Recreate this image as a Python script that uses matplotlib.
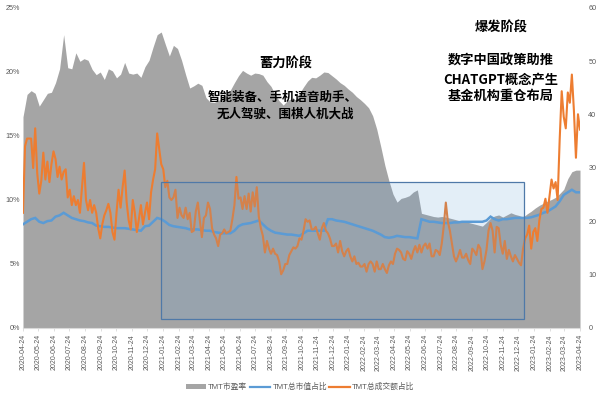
import matplotlib
matplotlib.use("Agg")
import matplotlib.pyplot as plt
import matplotlib.dates as mdates
from matplotlib.patches import Rectangle, Patch
from matplotlib.lines import Line2D
from matplotlib.ticker import FuncFormatter, MultipleLocator
import pandas as pd

# ---------------- data ----------------
start_date = "2020-04-24"
end_date = "2023-04-24"

# TMT PE (right axis)
pe_values = [
    39.6, 43.8, 44.5, 44.0, 41.6, 42.8, 44.0, 44.2, 46.0, 48.6,
    55.0, 48.8, 48.6, 51.6, 50.0, 50.5, 50.2, 48.5, 47.5, 48.0,
    46.6, 48.6, 48.2, 46.9, 47.6, 49.8, 47.8, 47.6, 47.8, 47.0,
    49.0, 50.2, 52.7, 55.0, 55.5, 53.2, 51.0, 53.0, 52.4, 50.2,
    47.5, 45.0, 45.4, 45.9, 45.5, 43.2, 42.4, 42.3, 42.6, 43.2,
    43.9, 44.6, 46.0, 47.3, 48.3, 47.8, 47.4, 47.8, 47.7, 47.4,
    46.2, 45.3, 43.8, 42.6, 41.8, 42.6, 43.0, 42.8, 44.0, 45.2,
    46.3, 47.0, 46.9, 47.4, 48.0, 47.9, 47.3, 46.7, 46.0, 45.5,
    44.8, 44.2, 43.4, 42.8, 42.1, 41.3, 39.8, 37.3, 34.0, 30.5,
    27.6, 25.1, 23.6, 24.3, 24.5, 24.8, 25.5, 25.9, 21.5, 21.3,
    21.1, 20.9, 20.8, 20.9, 20.8, 20.6, 20.4, 20.2, 20.0, 19.9,
    19.7, 19.5, 19.3, 19.1, 19.8, 20.6, 21.0, 21.2, 20.8, 21.2,
    21.6, 21.3, 21.1, 20.8, 21.4, 21.9, 22.5, 23.0, 23.4, 23.8,
    24.1, 24.5, 25.2, 26.0, 28.0, 29.3, 29.6, 29.6,
]

# TMT share of total market cap (%)
mcap_share = [
    8.1, 8.3, 8.5, 8.6, 8.3, 8.2, 8.35, 8.4, 8.7, 8.8,
    9.0, 8.8, 8.6, 8.5, 8.4, 8.35, 8.25, 8.2, 8.0, 7.95,
    7.9, 7.9, 7.85, 7.8, 7.8, 7.8, 7.75, 7.7, 7.65, 7.6,
    7.95, 8.0, 8.3, 8.6, 8.5, 8.3, 8.05, 7.95, 7.9, 7.85,
    7.8, 7.7, 7.7, 7.7, 7.65, 7.6, 7.6, 7.5, 7.45, 7.4,
    7.4, 7.4, 7.6, 7.95, 8.1, 8.15, 8.2, 8.3, 8.4, 8.1,
    7.8, 7.6, 7.45, 7.4, 7.35, 7.3, 7.3, 7.25, 7.2, 7.4,
    7.6, 7.6, 7.6, 7.6, 7.6, 8.5, 8.5, 8.4, 8.35, 8.3,
    8.2, 8.1, 8.0, 7.9, 7.8, 7.7, 7.6, 7.45, 7.3, 7.1,
    7.05, 7.1, 7.2, 7.15, 7.1, 7.1, 7.05, 7.0, 8.5, 8.4,
    8.3, 8.3, 8.25, 8.2, 8.2, 8.2, 8.25, 8.25, 8.3, 8.3,
    8.3, 8.3, 8.3, 8.3, 8.4, 8.7, 8.5, 8.4, 8.5, 8.5,
    8.55, 8.6, 8.6, 8.6, 8.6, 8.65, 8.75, 8.85, 9.0, 9.1,
    9.3, 9.5, 9.9, 10.4, 10.6, 10.8, 10.6, 10.6,
]

# TMT share of total turnover (%)
turnover_share = [
    9.0, 14.2, 14.8, 14.8, 14.8, 12.5, 15.6, 12.1, 10.5, 11.5,
    13.7, 11.6, 13.0, 11.4, 12.8, 13.8, 13.2, 11.8, 12.6, 11.6,
    12.2, 12.4, 10.2, 10.8, 9.6, 10.3, 9.6, 10.0, 9.0, 11.0,
    12.9, 10.0, 9.2, 10.0, 9.0, 9.6, 9.0, 7.8, 7.0, 8.1,
    8.8, 9.2, 9.7, 9.0, 7.5, 6.9, 9.0, 10.8, 9.4, 11.0,
    12.3, 9.8, 8.4, 7.7, 10.0, 9.0, 7.5, 8.5, 9.6, 8.1,
    9.0, 9.8, 8.5, 10.6, 11.6, 12.4, 15.2, 14.0, 12.8, 12.4,
    11.0, 11.5, 10.2, 10.0, 10.2, 10.8, 8.6, 9.4, 8.8, 8.6,
    9.4, 8.5, 9.0, 7.5, 7.6, 9.1, 9.8, 8.4, 7.1, 8.6,
    8.8, 9.8, 9.3, 7.8, 7.3, 7.0, 6.4, 7.3, 7.4, 7.7,
    7.4, 7.5, 7.6, 8.5, 9.6, 11.8, 10.1, 10.2, 9.3, 10.3,
    9.3, 10.5, 9.1, 10.6, 9.5, 11.0, 8.7, 7.8, 7.2, 5.9,
    6.8, 6.2, 5.8, 6.2, 5.8, 5.7, 5.2, 4.2, 4.5, 5.0,
    5.0, 5.7, 6.0, 6.3, 6.2, 6.4, 7.0, 6.9, 7.6, 8.5,
    8.3, 8.4, 7.7, 7.7, 7.9, 7.4, 6.9, 7.8, 8.2, 7.6,
    7.4, 7.0, 6.4, 6.4, 6.6, 5.9, 6.8, 6.0, 5.6, 6.0,
    6.2, 5.6, 5.2, 5.6, 5.0, 5.1, 4.8, 4.8, 5.0, 4.4,
    5.0, 5.2, 5.0, 4.4, 5.2, 4.6, 4.6, 5.0, 4.6, 4.3,
    4.9, 5.2, 5.0, 5.8, 6.2, 6.1, 5.9, 5.4, 5.3, 6.0,
    5.8, 5.4, 6.0, 6.4, 5.9, 6.5, 5.9, 6.4, 6.6, 6.2,
    6.6, 5.6, 5.6, 6.1, 6.0, 5.7, 6.6, 8.0, 9.8, 8.3,
    7.6, 6.6, 5.6, 5.2, 5.6, 6.1, 5.5, 5.5, 5.8, 5.3,
    5.0, 6.2, 6.0, 5.7, 6.5, 6.2, 4.6, 5.2, 6.1, 7.6,
    8.2, 7.6, 5.9, 7.9, 7.8, 6.5, 5.8, 6.8, 5.4, 6.1,
    5.6, 5.2, 5.7, 5.4, 5.1, 4.9, 6.2, 7.0, 7.3, 8.0,
    6.2, 7.5, 7.8, 6.8, 8.4, 9.3, 9.4, 10.1, 9.0, 10.3,
    11.6, 10.9, 11.4, 10.0, 14.7, 18.5, 16.5, 15.6, 18.4, 17.6,
    19.8, 17.0, 13.3, 16.7, 15.5,
]

series_labels = ["TMT市盈率", "TMT总市值占比", "TMT总成交额占比"]
stage1_title = "蓄力阶段"
stage1_lines = ["智能装备、手机语音助手、", "无人驾驶、围棋人机大战"]
stage2_title = "爆发阶段"
stage2_lines = ["数字中国政策助推", "CHATGPT概念产生", "基金机构重仓布局"]

pe_dates = pd.date_range(start_date, end_date, periods=len(pe_values))
mcap_dates = pd.date_range(start_date, end_date, periods=len(mcap_share))
turn_dates = pd.date_range(start_date, end_date, periods=len(turnover_share))
tick_dates = pd.date_range(start_date, end_date, freq=pd.DateOffset(months=1))

# ---------------- style ----------------
GRAY = "#a5a5a5"
BLUE = "#5b9bd5"
ORANGE = "#ed7d31"
TICK_COLOR = "#595959"
LATIN = ["Liberation Sans", "Noto Sans CJK SC"]
CJK = ["Noto Sans CJK SC", "DejaVu Sans"]

fig = plt.figure(figsize=(6.0, 3.98), dpi=100)
ax_pe = fig.add_axes([23 / 600, 1 - 328 / 398, 557 / 600, 320 / 398])
ax = ax_pe.twinx()

# PE area on the primary axes (drawn beneath)
ax_pe.fill_between(pe_dates, 0, pe_values, color=GRAY, linewidth=0, step=None)
ax_pe.set_ylim(0, 60)
ax_pe.yaxis.tick_right()
ax_pe.yaxis.set_major_locator(MultipleLocator(10))

# share lines on twin axes
ax.plot(mcap_dates, mcap_share, color=BLUE, linewidth=1.8, solid_joinstyle="miter")
ax.plot(turn_dates, turnover_share, color=ORANGE, linewidth=1.5)
ax.set_ylim(0, 25)
ax.yaxis.tick_left()
ax.yaxis.set_major_locator(MultipleLocator(5))
ax.yaxis.set_major_formatter(FuncFormatter(lambda v, p: f"{v:.0f}%"))

# highlight rectangle
x0 = mdates.date2num(pd.Timestamp("2021-01-20"))
x1 = mdates.date2num(pd.Timestamp("2023-01-04"))
ax.add_patch(Rectangle((x0, 0.7), x1 - x0, 11.4 - 0.7,
                       facecolor=BLUE, alpha=0.17, edgecolor="none", zorder=5))
ax.add_patch(Rectangle((x0, 0.7), x1 - x0, 11.4 - 0.7,
                       facecolor="none", edgecolor="#4f79a8", linewidth=0.9, zorder=6))

xmin = mdates.date2num(pd.Timestamp(start_date))
xmax = mdates.date2num(pd.Timestamp(end_date))
for a in (ax_pe, ax):
    a.set_xlim(xmin, xmax)
    for s in a.spines.values():
        s.set_visible(False)

ax_pe.spines["bottom"].set_visible(True)
ax_pe.spines["bottom"].set_color("#d9d9d9")
ax_pe.set_xticks(mdates.date2num(tick_dates))
ax_pe.set_xticklabels([d.strftime("%Y-%m-%d") for d in tick_dates], rotation=90,
                      fontsize=5, color=TICK_COLOR, family=LATIN)
ax_pe.tick_params(axis="x", length=2.5, width=0.6, color="#d9d9d9", pad=2)
ax_pe.tick_params(axis="y", length=0, pad=6, labelsize=5.2, labelcolor=TICK_COLOR)
ax.tick_params(axis="y", length=0, pad=2, labelsize=5.2, labelcolor=TICK_COLOR)
ax.tick_params(axis="x", bottom=False, labelbottom=False)
for lab in ax_pe.get_yticklabels() + ax.get_yticklabels():
    lab.set_family(LATIN)

# annotations
def ftext(x, y, s, size=9.5):
    fig.text(x / 600, 1 - y / 398, s, ha="center", va="center", fontsize=size,
             fontweight="bold", family=CJK, color="black", zorder=10)

ftext(286, 64, stage1_title)
ftext(283, 97, stage1_lines[0], 9)
ftext(285, 114, stage1_lines[1], 9)
ftext(501, 28, stage2_title)
ftext(501, 61, stage2_lines[0])
ftext(501, 79, stage2_lines[1])
ftext(501, 96, stage2_lines[2])

# legend
handles = [Patch(facecolor=GRAY, edgecolor="none"),
           Line2D([], [], color=BLUE, linewidth=1.6),
           Line2D([], [], color=ORANGE, linewidth=1.6)]
leg = fig.legend(handles, series_labels, loc="center", bbox_to_anchor=(300 / 600, 1 - 387 / 398),
                 ncol=3, frameon=False, handlelength=2.6, handleheight=0.5,
                 handletextpad=0.3, columnspacing=0.3,
                 prop={"family": LATIN, "size": 5.6})
for t in leg.get_texts():
    t.set_color(TICK_COLOR)

fig.savefig("out.png", dpi=100)
